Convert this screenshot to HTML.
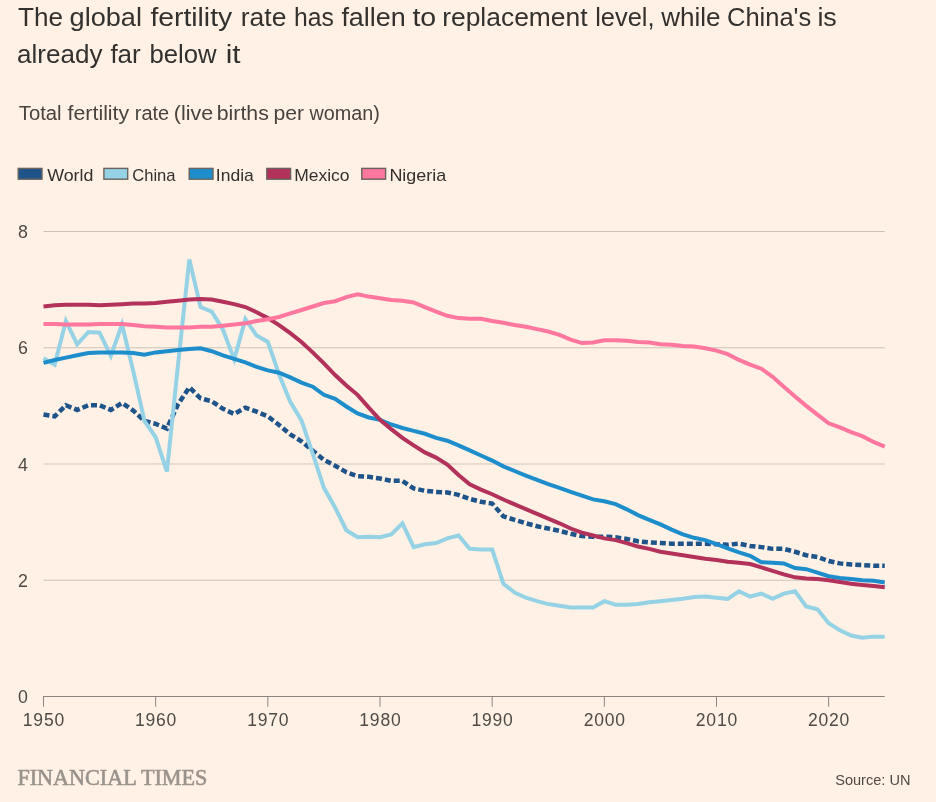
<!DOCTYPE html>
<html><head><meta charset="utf-8"><title>Fertility rate chart</title>
<style>
html,body{margin:0;padding:0;background:#fff1e5;}
body{width:936px;height:802px;overflow:hidden;}
svg{display:block;will-change:transform;}
text{font-family:"Liberation Sans",Arial,sans-serif;}
.ft{font-family:"Liberation Serif",serif;font-weight:normal;}
</style></head>
<body>
<svg width="936" height="802" viewBox="0 0 936 802">
<rect width="936" height="802" fill="#fff1e5"/>
<g fill="#33302e" font-size="25">
<text x="18.0" y="25.6" textLength="45.0" lengthAdjust="spacingAndGlyphs">The</text><text x="69.6" y="25.6" textLength="72.4" lengthAdjust="spacingAndGlyphs">global</text><text x="150.4" y="25.6" textLength="81.8" lengthAdjust="spacingAndGlyphs">fertility</text><text x="240.8" y="25.6" textLength="45.6" lengthAdjust="spacingAndGlyphs">rate</text><text x="294" y="25.6" textLength="39.8" lengthAdjust="spacingAndGlyphs">has</text><text x="341.4" y="25.6" textLength="64.4" lengthAdjust="spacingAndGlyphs">fallen</text><text x="412.4" y="25.6" textLength="23.8" lengthAdjust="spacingAndGlyphs">to</text><text x="442.2" y="25.6" textLength="145.4" lengthAdjust="spacingAndGlyphs">replacement</text><text x="595.2" y="25.6" textLength="59.4" lengthAdjust="spacingAndGlyphs">level,</text><text x="661.2" y="25.6" textLength="59.4" lengthAdjust="spacingAndGlyphs">while</text><text x="727.0" y="25.6" textLength="84.2" lengthAdjust="spacingAndGlyphs">China's</text><text x="817.4" y="25.6" textLength="19.4" lengthAdjust="spacingAndGlyphs">is</text>
<text x="17.0" y="63.2" textLength="85.4" lengthAdjust="spacingAndGlyphs">already</text><text x="110.4" y="63.2" textLength="30.4" lengthAdjust="spacingAndGlyphs">far</text><text x="149.4" y="63.2" textLength="67.2" lengthAdjust="spacingAndGlyphs">below</text><text x="225.8" y="63.2" textLength="14.8" lengthAdjust="spacingAndGlyphs">it</text>
</g>
<g font-size="19.5" fill="#48433f">
<text x="18.8" y="120.4" textLength="42.8" lengthAdjust="spacingAndGlyphs">Total</text><text x="67.6" y="120.4" textLength="61.6" lengthAdjust="spacingAndGlyphs">fertility</text><text x="134.8" y="120.4" textLength="34.4" lengthAdjust="spacingAndGlyphs">rate</text><text x="173.8" y="120.4" textLength="39.4" lengthAdjust="spacingAndGlyphs">(live</text><text x="216.8" y="120.4" textLength="52.0" lengthAdjust="spacingAndGlyphs">births</text><text x="273.4" y="120.4" textLength="30.6" lengthAdjust="spacingAndGlyphs">per</text><text x="309.4" y="120.4" textLength="70.4" lengthAdjust="spacingAndGlyphs">woman)</text>
</g>
<g font-size="17" fill="#33302e">
<rect x="18.2" y="168.4" width="23.8" height="10.8" fill="#1f548b" stroke="#6b635d" stroke-width="1.4"/>
<rect x="103.9" y="168.4" width="23.8" height="10.8" fill="#95d2e6" stroke="#6b635d" stroke-width="1.4"/>
<rect x="189.2" y="168.4" width="23.8" height="10.8" fill="#1d8dcc" stroke="#6b635d" stroke-width="1.4"/>
<rect x="266.8" y="168.4" width="23.8" height="10.8" fill="#b2325c" stroke="#6b635d" stroke-width="1.4"/>
<rect x="361.8" y="168.4" width="23.8" height="10.8" fill="#ff779f" stroke="#6b635d" stroke-width="1.4"/>
<text x="47.2" y="180.5" textLength="46.2" lengthAdjust="spacingAndGlyphs">World</text><text x="132.2" y="180.5" textLength="43.4" lengthAdjust="spacingAndGlyphs">China</text><text x="215.8" y="180.5" textLength="38.0" lengthAdjust="spacingAndGlyphs">India</text><text x="294.2" y="180.5" textLength="55.4" lengthAdjust="spacingAndGlyphs">Mexico</text><text x="389.4" y="180.5" textLength="56.8" lengthAdjust="spacingAndGlyphs">Nigeria</text>
</g>
<g>
<line x1="43.5" x2="884.75" y1="580.25" y2="580.25" stroke="#cfc3b8" stroke-width="1.1"/>
<line x1="43.5" x2="884.75" y1="464.00" y2="464.00" stroke="#cfc3b8" stroke-width="1.1"/>
<line x1="43.5" x2="884.75" y1="347.75" y2="347.75" stroke="#cfc3b8" stroke-width="1.1"/>
<line x1="43.5" x2="884.75" y1="231.50" y2="231.50" stroke="#cfc3b8" stroke-width="1.1"/>
</g>
<g font-size="17.8" fill="#4f4a46">
<text x="23" y="703.00" text-anchor="middle">0</text>
<text x="23" y="586.75" text-anchor="middle">2</text>
<text x="23" y="470.50" text-anchor="middle">4</text>
<text x="23" y="354.25" text-anchor="middle">6</text>
<text x="23" y="238.00" text-anchor="middle">8</text>
</g>
<line x1="43" x2="884.75" y1="696.5" y2="696.5" stroke="#8c847e" stroke-width="1"/>
<g font-size="17.5" fill="#4f4a46">
<line x1="43.50" x2="43.50" y1="696.5" y2="706.8" stroke="#8c847e" stroke-width="1"/>
<text x="43.90" y="725.5" text-anchor="middle" letter-spacing="0.8">1950</text>
<line x1="155.67" x2="155.67" y1="696.5" y2="706.8" stroke="#8c847e" stroke-width="1"/>
<text x="156.07" y="725.5" text-anchor="middle" letter-spacing="0.8">1960</text>
<line x1="267.83" x2="267.83" y1="696.5" y2="706.8" stroke="#8c847e" stroke-width="1"/>
<text x="268.23" y="725.5" text-anchor="middle" letter-spacing="0.8">1970</text>
<line x1="380.00" x2="380.00" y1="696.5" y2="706.8" stroke="#8c847e" stroke-width="1"/>
<text x="380.40" y="725.5" text-anchor="middle" letter-spacing="0.8">1980</text>
<line x1="492.17" x2="492.17" y1="696.5" y2="706.8" stroke="#8c847e" stroke-width="1"/>
<text x="492.57" y="725.5" text-anchor="middle" letter-spacing="0.8">1990</text>
<line x1="604.33" x2="604.33" y1="696.5" y2="706.8" stroke="#8c847e" stroke-width="1"/>
<text x="604.73" y="725.5" text-anchor="middle" letter-spacing="0.8">2000</text>
<line x1="716.50" x2="716.50" y1="696.5" y2="706.8" stroke="#8c847e" stroke-width="1"/>
<text x="716.90" y="725.5" text-anchor="middle" letter-spacing="0.8">2010</text>
<line x1="828.67" x2="828.67" y1="696.5" y2="706.8" stroke="#8c847e" stroke-width="1"/>
<text x="829.07" y="725.5" text-anchor="middle" letter-spacing="0.8">2020</text>
</g>
<path d="M43.50,414.59L54.72,416.34L65.93,405.29L77.15,409.94L88.37,405.29L99.58,405.29L110.80,409.94L122.02,402.97L133.23,410.52L144.45,420.99L155.67,423.89L166.88,428.54L178.10,404.13L189.32,387.27L200.53,398.32L211.75,401.23L222.97,408.78L234.18,414.01L245.40,407.62L256.62,411.69L267.83,416.34L279.05,425.06L290.27,434.36L301.48,441.33L312.70,450.63L323.92,459.93L335.13,465.74L346.35,472.14L357.57,476.21L368.78,476.79L380.00,478.53L391.22,480.86L402.43,480.86L413.65,488.41L424.87,490.74L436.08,491.90L447.30,492.48L458.52,494.81L469.73,498.88L480.95,501.78L492.17,503.52L503.38,516.31L514.60,519.80L525.82,523.29L537.03,526.19L548.25,528.52L559.47,530.84L570.68,533.75L581.90,536.08L593.12,536.66L604.33,536.66L615.55,537.24L626.77,538.98L637.99,541.31L649.20,542.47L660.42,543.05L671.64,543.63L682.85,543.63L694.07,543.63L705.29,543.63L716.50,544.21L727.72,544.79L738.94,543.63L750.15,545.96L761.37,547.12L772.59,548.86L783.80,548.86L795.02,551.77L806.24,555.26L817.45,557.00L828.67,561.07L839.89,563.39L851.10,564.56L862.32,565.14L873.54,565.72L884.75,565.72" fill="none" stroke="#1f548b" stroke-width="4.5" stroke-dasharray="6 3" stroke-linejoin="miter"/>
<path d="M43.50,358.21L54.72,364.61L65.93,321.01L77.15,344.26L88.37,332.06L99.58,332.64L110.80,355.89L122.02,324.50L133.23,371.00L144.45,420.99L155.67,437.26L166.88,471.56L178.10,364.03L189.32,259.40L200.53,307.06L211.75,311.71L222.97,329.73L234.18,359.38L245.40,319.27L256.62,335.54L267.83,341.94L279.05,374.49L290.27,401.81L301.48,420.41L312.70,453.54L323.92,487.83L335.13,507.59L346.35,530.26L357.57,537.24L368.78,536.66L380.00,537.24L391.22,534.33L402.43,523.29L413.65,547.12L424.87,544.21L436.08,543.05L447.30,538.40L458.52,535.49L469.73,548.86L480.95,549.44L492.17,549.44L503.38,583.74L514.60,592.46L525.82,597.69L537.03,601.17L548.25,604.08L559.47,605.83L570.68,607.57L581.90,607.57L593.12,607.57L604.33,601.17L615.55,604.66L626.77,604.66L637.99,604.08L649.20,602.34L660.42,601.17L671.64,600.01L682.85,598.85L694.07,597.11L705.29,596.52L716.50,597.69L727.72,598.85L738.94,591.29L750.15,596.52L761.37,593.62L772.59,598.85L783.80,593.62L795.02,591.29L806.24,606.41L817.45,609.31L828.67,623.26L839.89,630.24L851.10,635.47L862.32,637.79L873.54,636.63L884.75,636.63" fill="none" stroke="#95d2e6" stroke-width="4" stroke-linejoin="miter"/>
<path d="M43.50,362.86L54.72,359.96L65.93,357.63L77.15,355.31L88.37,352.98L99.58,352.40L110.80,352.40L122.02,352.40L133.23,352.98L144.45,354.73L155.67,352.40L166.88,351.24L178.10,350.07L189.32,348.91L200.53,348.33L211.75,351.24L222.97,355.31L234.18,358.79L245.40,362.28L256.62,366.93L267.83,370.42L279.05,372.74L290.27,377.39L301.48,382.62L312.70,386.69L323.92,394.83L335.13,398.90L346.35,406.46L357.57,413.43L368.78,417.50L380.00,419.82L391.22,424.48L402.43,427.96L413.65,430.87L424.87,433.78L436.08,437.84L447.30,440.75L458.52,445.40L469.73,450.40L480.95,455.46L492.17,460.57L503.38,466.32L514.60,470.98L525.82,475.62L537.03,479.98L548.25,484.05L559.47,487.95L570.68,491.78L581.90,495.56L593.12,499.40L604.33,501.20L615.55,504.11L626.77,509.34L637.99,515.15L649.20,519.80L660.42,524.45L671.64,529.68L682.85,534.33L694.07,537.82L705.29,540.14L716.50,544.21L727.72,548.28L738.94,552.35L750.15,555.84L761.37,562.23L772.59,562.81L783.80,563.39L795.02,568.04L806.24,569.21L817.45,572.69L828.67,576.18L839.89,577.92L851.10,579.09L862.32,580.25L873.54,580.83L884.75,582.58" fill="none" stroke="#1d8dcc" stroke-width="4" stroke-linejoin="miter"/>
<path d="M43.50,306.48L54.72,305.32L65.93,304.74L77.15,304.74L88.37,304.74L99.58,305.32L110.80,304.74L122.02,304.16L133.23,303.57L144.45,303.57L155.67,302.99L166.88,301.83L178.10,300.67L189.32,299.51L200.53,298.93L211.75,299.51L222.97,301.83L234.18,304.16L245.40,307.06L256.62,312.29L267.83,318.11L279.05,325.08L290.27,333.22L301.48,341.94L312.70,352.40L323.92,363.44L335.13,375.07L346.35,385.53L357.57,394.83L368.78,407.62L380.00,419.82L391.22,429.12L402.43,437.84L413.65,445.40L424.87,452.38L436.08,457.61L447.30,464.58L458.52,475.04L469.73,484.34L480.95,489.57L492.17,494.23L503.38,499.46L514.60,504.40L525.82,509.11L537.03,513.81L548.25,518.64L559.47,523.29L570.68,528.52L581.90,532.59L593.12,535.49L604.33,538.40L615.55,540.14L626.77,543.05L637.99,546.54L649.20,548.86L660.42,551.77L671.64,553.51L682.85,555.26L694.07,557.00L705.29,558.74L716.50,559.91L727.72,561.65L738.94,562.81L750.15,563.98L761.37,567.46L772.59,570.95L783.80,574.44L795.02,577.34L806.24,578.51L817.45,579.09L828.67,580.25L839.89,581.99L851.10,583.74L862.32,584.90L873.54,586.06L884.75,587.23" fill="none" stroke="#b2325c" stroke-width="4" stroke-linejoin="miter"/>
<path d="M43.50,323.92L54.72,323.92L65.93,324.50L77.15,324.50L88.37,324.50L99.58,323.92L110.80,323.92L122.02,323.92L133.23,325.08L144.45,326.24L155.67,326.82L166.88,327.41L178.10,327.41L189.32,327.41L200.53,326.82L211.75,326.82L222.97,325.66L234.18,324.50L245.40,323.34L256.62,321.01L267.83,319.27L279.05,316.94L290.27,313.46L301.48,309.97L312.70,306.48L323.92,302.99L335.13,301.25L346.35,297.18L357.57,294.27L368.78,296.60L380.00,298.34L391.22,300.09L402.43,300.67L413.65,302.41L424.87,307.06L436.08,311.71L447.30,315.78L458.52,318.11L469.73,318.69L480.95,318.69L492.17,321.01L503.38,322.76L514.60,325.08L525.82,326.82L537.03,329.15L548.25,331.47L559.47,334.96L570.68,339.61L581.90,343.10L593.12,342.52L604.33,340.19L615.55,340.19L626.77,340.77L637.99,341.94L649.20,342.52L660.42,344.26L671.64,344.84L682.85,346.01L694.07,346.59L705.29,348.33L716.50,350.66L727.72,354.14L738.94,359.96L750.15,364.61L761.37,368.68L772.59,376.81L783.80,386.69L795.02,396.57L806.24,405.88L817.45,414.59L828.67,423.31L839.89,427.38L851.10,432.03L862.32,436.10L873.54,441.91L884.75,446.56" fill="none" stroke="#ff779f" stroke-width="4" stroke-linejoin="miter"/>
<text class="ft" x="17.4" y="785" font-size="22.2" textLength="190" lengthAdjust="spacingAndGlyphs" fill="#9a938d" stroke="#9a938d" stroke-width="0.6">FINANCIAL TIMES</text>
<text x="835.2" y="785.2" font-size="15" fill="#4f4a46" textLength="75.3" lengthAdjust="spacingAndGlyphs">Source: UN</text>
</svg>
</body></html>
